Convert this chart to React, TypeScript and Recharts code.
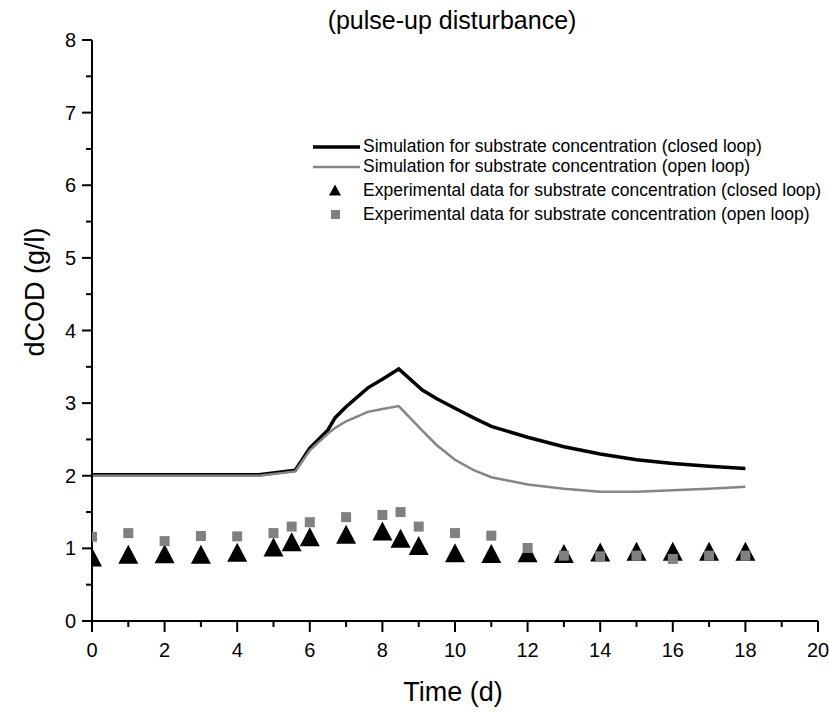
import React from 'react'
import { ComposedChart, Line, Scatter, XAxis, YAxis } from 'recharts'

// simulation curves (time in days, dCOD in g/l)
const simTime = [0, 4.6, 5.6, 6, 6.5, 6.7, 7, 7.6, 8, 8.45, 9.1, 9.5, 10, 10.5, 11, 12, 13, 14, 15, 16, 17, 18]
const simClosed = [2.015, 2.015, 2.075, 2.38, 2.63, 2.8, 2.95, 3.21, 3.33, 3.47, 3.18, 3.06, 2.93, 2.8, 2.68, 2.53, 2.4, 2.3, 2.22, 2.17, 2.13, 2.1]
const simOpen = [2.0, 2.0, 2.06, 2.35, 2.58, 2.66, 2.75, 2.88, 2.92, 2.96, 2.62, 2.42, 2.22, 2.08, 1.98, 1.88, 1.82, 1.78, 1.78, 1.8, 1.82, 1.85]

// experimental points
const expTime = [0, 1, 2, 3, 4, 5, 5.5, 6, 7, 8, 8.5, 9, 10, 11, 12, 13, 14, 15, 16, 17, 18]
const expClosed = [0.88, 0.92, 0.925, 0.92, 0.945, 1.02, 1.09, 1.16, 1.195, 1.24, 1.14, 1.04, 0.94, 0.93, 0.94, 0.93, 0.95, 0.96, 0.96, 0.96, 0.96]
const expOpen = [1.16, 1.21, 1.1, 1.17, 1.165, 1.21, 1.3, 1.36, 1.43, 1.46, 1.5, 1.3, 1.21, 1.175, 1.005, 0.9, 0.89, 0.9, 0.855, 0.9, 0.9]

const xTicks = Array.from({ length: 21 }, (_, i) => i)
const yTicks = Array.from({ length: 17 }, (_, i) => i / 2)

const legendItems = [
  { label: 'Simulation for substrate concentration (closed loop)', kind: 'line', color: '#000', width: 3.5 },
  { label: 'Simulation for substrate concentration (open loop)', kind: 'line', color: '#858585', width: 2.5 },
  { label: 'Experimental data for substrate concentration (closed loop)', kind: 'tri', color: '#000' },
  { label: 'Experimental data for substrate concentration (open loop)', kind: 'sq', color: '#808080' },
]

const font = '"Liberation Sans", Arial, sans-serif'
const GRAY = '#858585'

const toPoints = (xs: number[], ys: number[]) => xs.map((x, i) => ({ x, y: ys[i] }))

function YTick(props: any) {
  const { x, y, payload } = props
  const major = Number.isInteger(payload.value)
  return (
    <g>
      <line x1={x - (major ? 10 : 6)} x2={x} y1={y} y2={y} stroke="#000" strokeWidth={2} />
      {major && (
        <text x={x - 16} y={y} textAnchor="end" dominantBaseline="central" fontSize={20} fontFamily={font} fill="#000">
          {payload.value}
        </text>
      )}
    </g>
  )
}

function XTick(props: any) {
  const { x, y, payload } = props
  const major = payload.value % 2 === 0
  return (
    <g>
      <line x1={x} x2={x} y1={y} y2={y + (major ? 11 : 6)} stroke="#000" strokeWidth={2} />
      {major && (
        <text x={x} y={y + 29} textAnchor="middle" dominantBaseline="central" fontSize={20} fontFamily={font} fill="#000">
          {payload.value}
        </text>
      )}
    </g>
  )
}

const Triangle = (props: any) => {
  const { cx, cy } = props
  return <polygon points={`${cx},${cy - 9.5} ${cx + 10},${cy + 9.5} ${cx - 10},${cy + 9.5}`} fill="#000" />
}

const Square = (props: any) => {
  const { cx, cy } = props
  return <rect x={cx - 5} y={cy - 5} width={10} height={10} fill="#808080" />
}

function LegendBox() {
  const rows = [146, 166, 190, 214]
  return (
    <svg style={{ position: 'absolute', left: 0, top: 0 }} width={829} height={713} pointerEvents="none">
      {legendItems.map((it, i) => {
        const cy = rows[i]
        return (
          <g key={it.label}>
            {it.kind === 'line' && <line x1={313} x2={360} y1={cy + 1} y2={cy + 1} stroke={it.color} strokeWidth={it.width} />}
            {it.kind === 'tri' && <polygon points={`335,${cy - 5.5} 341,${cy + 5.5} 329,${cy + 5.5}`} fill={it.color} />}
            {it.kind === 'sq' && <rect x={331} y={cy - 4} width={9} height={9} fill={it.color} />}
            <text x={363} y={cy} dominantBaseline="central" fontSize={17.5} fontFamily={font} fill="#000">
              {it.label}
            </text>
          </g>
        )
      })}
      <text x={452} y={20} textAnchor="middle" dominantBaseline="central" fontSize={25} fontFamily={font} fill="#000">
        (pulse-up disturbance)
      </text>
      <text x={453} y={692} textAnchor="middle" dominantBaseline="central" fontSize={27} fontFamily={font} fill="#000">
        Time (d)
      </text>
      <text
        x={35}
        y={292}
        textAnchor="middle"
        dominantBaseline="central"
        fontSize={27}
        fontFamily={font}
        fill="#000"
        transform="rotate(-90 35 292)"
      >
        dCOD (g/l)
      </text>
    </svg>
  )
}

export default function App() {
  return (
    <div style={{ position: 'absolute', left: 0, top: 0, width: 829, height: 713, background: '#fff' }}>
      <ComposedChart width={829} height={713} margin={{ top: 40, right: 11, bottom: 52, left: 32 }}>
        <XAxis
          type="number"
          dataKey="x"
          domain={[0, 20]}
          ticks={xTicks}
          interval={0}
          allowDataOverflow
          height={40}
          tickSize={0}
          tickMargin={0}
          tickLine={false}
          tick={<XTick />}
          axisLine={{ stroke: '#000', strokeWidth: 2 }}
        />
        <YAxis
          type="number"
          dataKey="y"
          domain={[0, 8]}
          ticks={yTicks}
          interval={0}
          width={60}
          tickSize={0}
          tickMargin={0}
          tickLine={false}
          tick={<YTick />}
          axisLine={{ stroke: '#000', strokeWidth: 2 }}
        />
        <Line
          data={toPoints(simTime, simClosed)}
          dataKey="y"
          type="linear"
          stroke="#000"
          strokeWidth={3.5}
          dot={false}
          activeDot={false}
          isAnimationActive={false}
        />
        <Line
          data={toPoints(simTime, simOpen)}
          dataKey="y"
          type="linear"
          stroke={GRAY}
          strokeWidth={2.5}
          dot={false}
          activeDot={false}
          isAnimationActive={false}
        />
        <Scatter data={toPoints(expTime, expClosed)} dataKey="y" shape={Triangle} isAnimationActive={false} />
        <Scatter data={toPoints(expTime, expOpen)} dataKey="y" shape={Square} isAnimationActive={false} />
      </ComposedChart>
      <LegendBox />
    </div>
  )
}
